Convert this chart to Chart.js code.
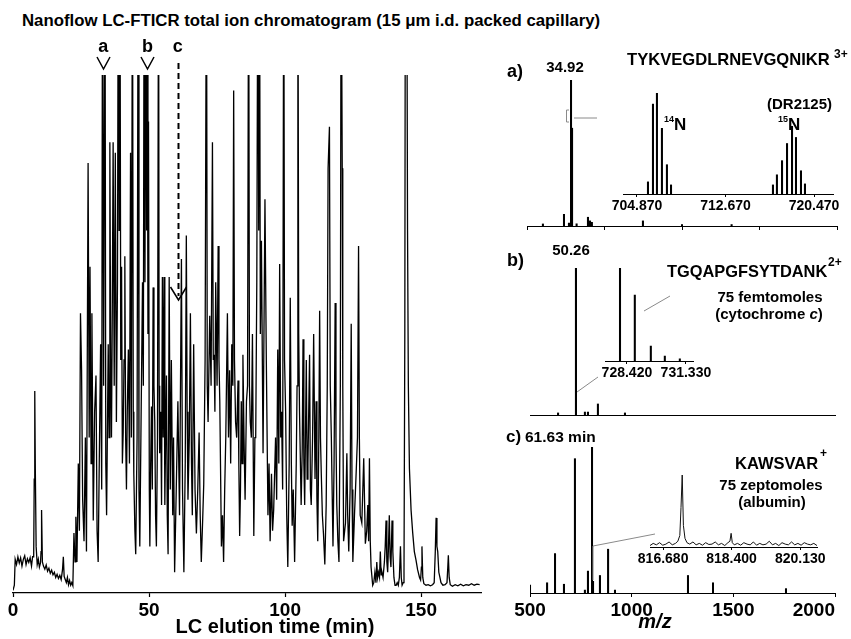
<!DOCTYPE html>
<html>
<head>
<meta charset="utf-8">
<title>Nanoflow LC-FTICR total ion chromatogram</title>
<script src="https://cdn.jsdelivr.net/npm/chart.js@4.4.1/dist/chart.umd.min.js"></script>
<style>
  html, body { margin: 0; padding: 0; background: #fff; }
  body { position: relative; width: 851px; height: 639px; overflow: hidden;
         font-family: "Liberation Sans", Arial, Helvetica, sans-serif; color: #000; }
  canvas { position: absolute; }
  .lbl { position: absolute; white-space: nowrap; font-weight: bold; line-height: 1; }
  .mid { transform: translateX(-50%); }
  svg { position: absolute; left: 0; top: 0; pointer-events: none; }
</style>
</head>
<body>
<canvas id="tic"></canvas>
<canvas id="specA"></canvas>
<canvas id="specB"></canvas>
<canvas id="specC"></canvas>
<canvas id="insetA"></canvas>
<canvas id="insetB"></canvas>
<canvas id="insetC"></canvas>

<div class="lbl" style="left:22px;top:13px;font-size:16.8px">Nanoflow LC-FTICR total ion chromatogram (15 μm i.d. packed capillary)</div>
<div class="lbl mid" style="left:275px;top:616px;font-size:20px">LC elution time (min)</div>
<div class="lbl mid" style="left:655px;top:611px;font-size:20px;font-style:italic">m/z</div>

<div class="lbl" style="left:507px;top:62px;font-size:18px">a)</div>
<div class="lbl mid" style="left:565px;top:59px;font-size:15px">34.92</div>
<div class="lbl" style="left:627px;top:52px;font-size:16.6px">TYKVEGDLRNEVGQNIKR</div>
<div class="lbl" style="left:834px;top:48px;font-size:12px">3+</div>
<div class="lbl" style="left:767px;top:96px;font-size:15px">(DR2125)</div>
<div class="lbl" style="left:664px;top:115px;font-size:9px">14</div>
<div class="lbl" style="left:674px;top:116px;font-size:17px">N</div>
<div class="lbl" style="left:778px;top:115px;font-size:9px">15</div>
<div class="lbl" style="left:788px;top:116px;font-size:17px">N</div>

<div class="lbl" style="left:507px;top:251px;font-size:18px">b)</div>
<div class="lbl mid" style="left:571px;top:242px;font-size:15px">50.26</div>
<div class="lbl" style="left:667px;top:263px;font-size:16.4px">TGQAPGFSYTDANK</div>
<div class="lbl" style="left:828px;top:256px;font-size:12px">2+</div>
<div class="lbl mid" style="left:770px;top:289px;font-size:15px">75 femtomoles</div>
<div class="lbl mid" style="left:769px;top:306px;font-size:15px">(cytochrome <i>c</i>)</div>

<div class="lbl" style="left:506px;top:428px;font-size:17px">c)</div>
<div class="lbl" style="left:525px;top:429px;font-size:15.5px">61.63 min</div>
<div class="lbl" style="left:735px;top:455px;font-size:16.5px">KAWSVAR</div>
<div class="lbl" style="left:820px;top:447px;font-size:12px">+</div>
<div class="lbl mid" style="left:771px;top:477px;font-size:15px">75 zeptomoles</div>
<div class="lbl mid" style="left:772px;top:494px;font-size:15px">(albumin)</div>

<svg width="851" height="639">
  <g stroke="#8a8a8a" stroke-width="1" fill="none">
    <polyline points="569,110 566.5,110 566.5,122 569,122"/>
    <line x1="574" y1="118" x2="597" y2="118"/>
    <line x1="644" y1="311" x2="670" y2="296"/>
    <line x1="577" y1="392" x2="598" y2="377"/>
    <line x1="593" y1="546" x2="655" y2="534"/>
    <line x1="593" y1="546" x2="593" y2="580"/>
  </g>
</svg>

<script>
Chart.defaults.font.family = '"Liberation Sans", Arial, Helvetica, sans-serif';
Chart.defaults.color = '#000';
Chart.defaults.animation = false;

// total ion chromatogram: elution time (min) and signal (100 = top of frame, taller peaks are cut off)
const lcTime = [
  0, 0.5, 0.8, 1.3, 1.8, 2.3, 2.8, 3.3, 3.8, 4.3,
  4.8, 5.3, 5.8, 6.3, 6.8, 7.2, 7.6, 7.8, 8.0, 8.2,
  8.5, 8.9, 9.3, 9.7, 10.1, 10.3, 10.5, 10.8, 11.2, 11.7,
  12.2, 12.7, 13.2, 13.7, 14.2, 14.7, 15.2, 15.7, 16.2, 16.7,
  17.2, 17.7, 18.2, 18.5, 18.8, 19.2, 19.6, 20.0, 20.4, 20.8,
  21.2, 21.6, 22.0,
  22.4, 22.8, 23.1, 23.5, 24.0, 24.4, 24.8, 25.2, 25.6, 26.1,
  26.6, 27.0, 27.6, 28.0, 28.3, 28.7, 29.0, 29.5, 30.0, 30.5,
  30.9, 31.3, 31.7, 32.2, 32.6, 32.9, 33.3, 33.8, 34.1, 34.4,
  35.0, 35.3, 35.6, 35.9, 36.2, 36.5, 36.8, 37.2, 37.6, 38.0,
  38.4, 38.7, 39.0, 39.3, 39.6, 39.9, 40.2, 40.5, 40.8, 41.1,
  41.4, 41.7, 42.0, 42.4, 42.8, 43.2, 43.5, 43.9, 44.2, 44.4,
  44.8, 45.1, 45.6, 46.0, 46.3, 46.6, 47.1, 47.6, 47.9, 48.2,
  48.5, 48.8, 49.1, 49.3, 49.6, 49.8, 50.1, 50.3, 50.6, 50.9,
  51.2, 51.5, 51.8, 52.1, 52.4, 52.7, 53.1, 53.5, 53.7, 53.9,
  54.3, 54.6, 54.9, 55.2, 55.5, 55.8, 56.1, 56.4, 56.7, 57.0,
  57.4, 57.8, 58.2, 58.7, 59.0, 59.4, 60.0, 60.6, 61.2, 61.9,
  62.3, 62.8, 63.3, 63.7, 64.0, 64.3, 64.8, 65.2, 65.6, 65.9,
  66.4, 66.9, 67.4, 67.9, 68.4, 68.8, 69.2, 69.7, 70.1, 70.6,
  71.1, 71.4, 71.7, 72.3, 72.8, 73.3, 73.6, 73.9, 74.2, 74.5,
  75.0, 75.4, 75.7, 76.0, 76.6, 77.0, 77.4, 77.8, 78.2, 78.8,
  79.2, 79.6, 80.0, 80.4, 80.8, 81.1, 81.4, 81.8, 82.2, 82.7,
  83.0, 83.3, 83.6, 83.9, 84.2, 84.5, 84.9, 85.3, 85.8, 86.2,
  86.6, 86.9, 87.2, 87.6, 88.0, 88.5, 88.9, 89.2, 89.6, 90.0,
  90.3, 90.6, 90.9, 91.3, 91.9, 92.6, 93.1, 93.7, 94.1, 94.5,
  95.0, 95.4, 95.8, 96.5, 96.9, 97.3, 97.7, 98.0, 98.4, 98.7,
  99.1, 99.5, 99.8, 100.2, 100.6, 101.0, 101.5, 101.9, 102.3, 102.6,
  103.0, 103.5, 104.1, 104.4, 104.7, 105.0, 105.3, 105.9, 106.3, 106.6,
  106.9, 107.2, 107.8, 108.1, 108.4, 109.0, 109.3, 109.6, 110.1, 110.5,
  111.0, 111.4, 111.7, 112.0, 112.4, 112.7, 113.0, 113.3, 113.7, 114.1,
  114.6, 115.1, 115.5, 115.8, 116.3, 116.6, 117.0, 117.6, 118.0, 118.4,
  118.7, 119.0, 119.4, 119.8, 120.3, 120.6, 121.0, 121.2, 121.5, 122.2,
  122.7, 123.0, 123.4, 123.9, 124.3, 124.6, 124.9, 125.5, 126.1, 126.6,
  127.0, 127.3, 127.6, 128.2, 128.9, 129.5, 130.0, 130.4, 130.7, 131.0,
  131.3, 131.6, 132.2, 132.6, 133.0, 133.4, 133.7, 134.0, 134.3, 134.7,
  135.0, 135.3, 135.6, 136.0, 136.5, 136.8, 137.1, 137.4, 137.7, 138.0,
  138.3, 138.6, 138.9, 139.3, 139.6, 140.0, 140.4, 140.8, 141.2, 141.6,
  142.0, 142.4, 142.7, 143.0, 143.4, 143.7, 144.0, 144.2, 144.5, 144.7,
  145.0, 145.3, 145.7, 146.3, 146.9, 147.5, 148.1, 148.7, 149.4, 149.8,
  150.1, 150.3, 150.6, 151.0, 151.8, 152.6, 153.4, 154.2, 154.8, 155.2,
  155.5, 155.8, 156.1, 156.5, 156.9, 157.3, 158.0, 158.8, 159.5, 159.8,
  160.0, 160.3, 160.7, 161.5, 162.5, 163.5, 164.5, 165.5, 166.5, 167.5,
  168.5, 169.5, 170.5, 171.5
];
const lcSignal = [
  0.5, 1.5, 6.5, 5.5, 7, 5.8, 6.8, 5.2, 6.5, 7.2,
  5.5, 6.6, 5.9, 6.8, 5.2, 7, 7, 22, 39, 24,
  9, 5.5, 6.5, 5, 5.8, 8, 16, 6, 5.2, 4.6,
  5.4, 4.2, 4.8, 3.8, 4.4, 3.5, 4, 3, 3.6, 2.8,
  3.4, 2.6, 4.5, 7, 3.2, 2.6, 2, 3, 1.6, 2.4,
  1.5, 2, 1.4,
  11.6, 6, 14.7, 6, 25, 12, 54, 43, 18, 10,
  30, 8, 83, 30, 63, 25, 54, 14, 35, 42,
  12, 6, 25, 48, 20, 130, 40, 130, 25, 15,
  48, 30, 87, 45, 30, 55, 87, 40, 85, 33,
  60, 130, 70, 130, 45, 63, 25, 31, 45, 65,
  30, 20, 35, 47, 25, 85, 30, 130, 35, 23,
  12, 7.5, 30, 130, 20, 9, 35, 60, 40, 130,
  60, 130, 70, 130, 50, 91, 20, 9, 25, 36,
  20, 59, 40, 33, 15, 9, 30, 130, 40, 27,
  35, 17, 61, 30, 61, 17, 30, 42, 15, 7.5,
  61, 20, 45, 15, 30, 4, 20, 37, 15, 64.5,
  20, 4, 25, 69, 35, 18, 30, 54, 25, 15,
  48, 20, 11.5, 20, 31, 15, 6, 14, 21, 45,
  130, 40, 33, 53.5, 40, 87, 45, 46, 35, 60,
  40, 67, 45, 37, 9, 15, 6, 20, 30, 54,
  30, 43, 25, 48, 40, 97, 45, 33, 30, 41,
  25, 11, 20, 37, 25, 46, 30, 18, 37, 40,
  130, 40, 33, 30, 50, 11, 30, 30, 60, 130,
  70, 130, 50, 68, 27, 76, 45, 15, 25, 10,
  23, 12, 16, 30, 18, 47, 25, 63.5, 30, 35,
  20, 130, 45, 35, 15, 5, 25, 57, 25, 13,
  20, 6, 25, 40, 130, 50, 35, 17, 28, 49,
  25, 17, 45, 22, 25, 46, 20, 17, 30, 50,
  22, 37, 18, 10, 30, 54.5, 30, 23, 15, 11.5,
  5.5, 17, 40, 82, 90, 40, 30, 9, 25, 56,
  30, 17, 10, 6, 40, 130, 82, 40, 10, 13.5,
  27, 15, 8, 20, 52, 20, 6, 15, 23, 30,
  67, 30, 15, 13.5, 26, 9.5, 12, 17, 10, 26,
  10, 5, 1.5, 2, 4, 2, 6, 3, 4, 3,
  8, 3.5, 4, 3, 6, 9, 14, 6, 4, 9,
  15, 7, 5, 14, 8, 3, 1.5, 1.5, 2, 1.5,
  3, 9, 3, 1.5, 2, 4, 50, 130, 110, 130,
  70, 40, 24, 16, 11.6, 8, 6.4, 4.5, 3, 2.5,
  5, 9, 3, 1.8, 1.5, 1.6, 1.4, 1.6, 2, 8,
  14.5, 9, 8, 4, 3, 2, 1.5, 1.6, 2, 5,
  7.3, 3, 1.6, 1.3, 1.6, 1.4, 1.7, 1.4, 1.6, 1.5,
  1.8, 1.5, 1.7, 1.6
];
const lcTickStep = 50;

// scans a, b, c marked on the chromatogram
const markerTimes = [33.2, 49.4, 60.6];
const markerLabels = ['a', 'b', 'c'];

// mass spectra: m/z and relative intensity (%)
const specAmz = [577, 679, 703, 713, 718, 740, 795, 805, 814, 1061, 1250, 1490];
const specAint = [1.4, 8, 2, 100, 67, 1.5, 6, 3.5, 2.5, 3.5, 1, 1];
const specBmz = [638, 726, 770, 785, 834, 967];
const specBint = [1.4, 100, 2, 2, 7.5, 1.4];
const specCmz = [500, 584, 623, 667, 721, 770, 785, 805, 810, 844, 884, 918, 1277, 1400, 1759];
const specCint = [5.5, 7, 27, 6, 92, 2, 15, 100, 8, 12, 30, 2, 12, 7, 3];
const mzTicksA = 375;
const mzTicksC = 500;

// zoomed isotope windows
const insetAmz = [705.84, 706.28, 706.63, 707.07, 707.51, 707.87,
                  716.85, 717.20, 717.65, 718.09, 718.53, 718.88, 719.32, 719.67];
const insetAint = [12, 89, 100, 65, 29, 9, 9, 19, 33, 50, 67, 56, 23, 10];
const insetAticks = [704.87, 712.67, 720.47];

const insetBmz = [728.08, 728.81, 729.60, 730.29, 731.03];
const insetBint = [100, 71, 16, 5.4, 2.2];
const insetBticks = [728.42, 731.33];

const insetCmz = [
  816.35, 816.43, 816.51, 816.59, 816.67, 816.75, 816.83, 816.91, 816.99, 817.05,
  817.10, 817.13, 817.16, 817.19, 817.23, 817.28, 817.35, 817.43, 817.51, 817.59,
  817.67, 817.75, 817.83, 817.91, 817.99, 818.07, 818.15, 818.23, 818.31, 818.36,
  818.39, 818.42, 818.47, 818.55, 818.63, 818.71, 818.79, 818.87, 818.95, 819.03,
  819.11, 819.19, 819.27, 819.35, 819.43, 819.51, 819.59, 819.67, 819.75, 819.83,
  819.91, 819.99, 820.07, 820.15, 820.23, 820.31, 820.39, 820.47, 820.55
];
const insetCint = [
  2, 5, 3, 6, 2.5, 4, 7, 3, 5, 8,
  16, 55, 100, 30, 12, 6, 4, 7, 3, 5,
  2.5, 6, 3.5, 4, 7, 3, 5, 2, 6, 8,
  19, 6, 3, 5, 2.5, 6, 4, 3, 7, 2.5,
  5, 3, 4, 8, 3, 5, 2, 6, 4, 3,
  7, 3, 5, 2.5, 6, 4, 3, 5, 2
];
const insetCticks = [816.68, 818.40, 820.13];


function sizeCanvas(id, box) {
  const canvas = document.getElementById(id);
  const w = box.padL + box.width + box.padR;
  const h = box.padT + box.height + box.axisH;
  canvas.width = w;
  canvas.height = h;
  canvas.style.left = (box.left - box.padL) + 'px';
  canvas.style.top = (box.top - box.padT) + 'px';
  canvas.style.width = w + 'px';
  canvas.style.height = h + 'px';
  return canvas;
}

function baseOptions(box, xScale) {
  return {
    responsive: false,
    layout: { padding: { left: box.padL, right: box.padR, top: box.padT, bottom: 0 } },
    plugins: { legend: { display: false }, tooltip: { enabled: false } },
    scales: {
      x: Object.assign({ afterFit: s => { s.height = box.axisH; } }, xScale),
      y: { display: false, min: 0, max: 100 },
    },
  };
}

function mzAxis(min, max, opts) {
  return Object.assign({
    type: 'linear',
    min: min,
    max: max,
    offset: false,
    border: { display: true, color: '#000', width: 1 },
    grid: { display: true, offset: false, drawOnChartArea: false, tickLength: 4, tickColor: '#000' },
  }, opts);
}

function insetAxis(min, max, tickValues) {
  return mzAxis(min, max, {
    grid: { display: true, offset: false, drawOnChartArea: false, tickLength: 3, tickColor: '#000' },
    ticks: {
      padding: 1, autoSkip: false, maxRotation: 0, color: '#000',
      font: { size: 14, weight: 'bold' },
      callback: v => Number(v).toFixed(3),
    },
    afterBuildTicks: s => { s.ticks = tickValues.map(v => ({ value: v })); },
  });
}

function stickChart(id, box, mz, intensity, xScale, plugins) {
  const canvas = sizeCanvas(id, box);
  return new Chart(canvas, {
    type: 'bar',
    data: {
      datasets: [{
        data: mz.map((m, i) => ({ x: m, y: intensity[i] })),
        backgroundColor: '#000',
        borderWidth: 0,
        barThickness: 1.4,
      }],
    },
    options: baseOptions(box, xScale),
    plugins: plugins || [],
  });
}

// arrows above the chromatogram
const markerPlugin = {
  id: 'elutionMarkers',
  afterDatasetsDraw(chart) {
    const ctx = chart.ctx;
    const x = chart.scales.x;
    ctx.save();
    ctx.strokeStyle = '#000';
    markerTimes.forEach((t, i) => {
      const px = Math.round(x.getPixelForValue(t)) + 0.5;
      ctx.lineWidth = 1.5;
      ctx.setLineDash([]);
      if (i < 2) {
        ctx.beginPath();
        ctx.moveTo(px - 6.5, 27);
        ctx.lineTo(px, 39);
        ctx.lineTo(px + 6.5, 27);
        ctx.stroke();
      } else {
        ctx.lineWidth = 2;
        ctx.setLineDash([6, 4]);
        ctx.beginPath();
        ctx.moveTo(px, 33);
        ctx.lineTo(px, 266);
        ctx.stroke();
        ctx.setLineDash([]);
        ctx.lineWidth = 1.5;
        ctx.beginPath();
        ctx.moveTo(px - 8, 257);
        ctx.lineTo(px, 270);
        ctx.lineTo(px + 8, 257);
        ctx.stroke();
      }
    });
    ctx.restore();
  },
};

// centre the first m/z label, keep the last one inside the frame
const edgeLabelPlugin = {
  id: 'edgeLabels',
  beforeDraw(chart) {
    const scale = chart.scales.x;
    if (!scale || typeof scale.getLabelItems !== 'function') return;
    const items = scale.getLabelItems();
    if (items && items.length) items[0].options.textAlign = 'center';
  },
};

// chromatogram
const ticBox = { left: 13, top: 75, width: 468, height: 518, padL: 13, padR: 14, padT: 45, axisH: 46 };
const ticChart = new Chart(sizeCanvas('tic', ticBox), {
  type: 'line',
  data: {
    datasets: [{
      data: lcTime.map((t, i) => ({ x: t, y: lcSignal[i] })),
      borderColor: '#000',
      borderWidth: 1.3,
      pointRadius: 0,
      tension: 0,
    }],
  },
  options: baseOptions(ticBox, {
    type: 'linear',
    min: 0,
    max: 172,
    border: { display: true, color: '#000', width: 1.2 },
    grid: { display: true, drawOnChartArea: false, tickLength: 4, tickColor: '#000', tickWidth: 1.2 },
    ticks: {
      stepSize: lcTickStep, includeBounds: false, padding: 2, maxRotation: 0, color: '#000',
      font: { size: 19, weight: 'bold' },
      callback: v => String(v),
    },
  }),
  plugins: [markerPlugin],
});

markerTimes.forEach((t, i) => {
  const div = document.createElement('div');
  div.className = 'lbl mid';
  div.style.fontSize = '18px';
  div.style.left = (ticBox.left - ticBox.padL + ticChart.scales.x.getPixelForValue(t)) + 'px';
  div.style.top = '37px';
  div.textContent = markerLabels[i];
  document.body.appendChild(div);
});

// spectra a, b, c
stickChart('specA', { left: 527, top: 80, width: 310, height: 146, padL: 10, padR: 10, padT: 5, axisH: 8 },
  specAmz, specAint,
  mzAxis(500, 2000, { ticks: { display: false, stepSize: mzTicksA } }));

stickChart('specB', { left: 530, top: 268, width: 305, height: 147, padL: 10, padR: 10, padT: 5, axisH: 6 },
  specBmz, specBint,
  mzAxis(500, 2000, { grid: { display: false }, ticks: { display: false } }));

stickChart('specC', { left: 530, top: 447, width: 305, height: 146, padL: 20, padR: 16, padT: 5, axisH: 30 },
  specCmz, specCint,
  mzAxis(500, 2000, {
    ticks: {
      stepSize: mzTicksC, align: 'inner', padding: 2, autoSkip: false, maxRotation: 0, color: '#000',
      font: { size: 19, weight: 'bold' },
      callback: v => String(v),
    },
  }),
  [edgeLabelPlugin]);

// insets
stickChart('insetA', { left: 623, top: 93, width: 210, height: 101, padL: 20, padR: 10, padT: 5, axisH: 22 },
  insetAmz, insetAint, insetAxis(703.64, 722.14, insetAticks));

stickChart('insetB', { left: 605, top: 268, width: 89, height: 93, padL: 20, padR: 20, padT: 5, axisH: 20 },
  insetBmz, insetBint, insetAxis(727.34, 731.72, insetBticks));

const insetCBox = { left: 650, top: 475, width: 167, height: 72, padL: 20, padR: 12, padT: 5, axisH: 22 };
new Chart(sizeCanvas('insetC', insetCBox), {
  type: 'line',
  data: {
    datasets: [{
      data: insetCmz.map((m, i) => ({ x: m, y: insetCint[i] })),
      borderColor: '#111',
      borderWidth: 1,
      pointRadius: 0,
      tension: 0,
    }],
  },
  options: baseOptions(insetCBox, insetAxis(816.35, 820.55, insetCticks)),
});
</script>
</body>
</html>
